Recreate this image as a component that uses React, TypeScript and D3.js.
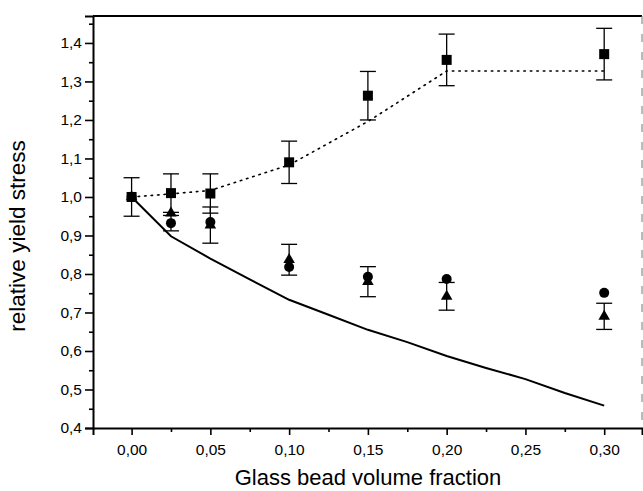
import React, { useEffect, useRef } from "react";
import * as d3 from "d3";

// measured points
const fractions = [0, 0.025, 0.05, 0.1, 0.15, 0.2, 0.3];
const squareValues = [1.0, 1.01, 1.009, 1.09, 1.263, 1.356, 1.371];
const squareErrors = [0.05, 0.05, 0.051, 0.055, 0.063, 0.067, 0.067];
const circleValues = [1.0, 0.932, 0.935, 0.818, 0.793, 0.787, 0.751];
const circleErrors = [0, 0.02, 0, 0, 0, 0, 0];
const triangleValues = [1.0, 0.958, 0.927, 0.837, 0.78, 0.742, 0.69];
const triangleErrors = [0, 0, 0.047, 0.04, 0.039, 0.036, 0.034];

// model curves
const upperFractions = [0, 0.025, 0.05, 0.1, 0.15, 0.2, 0.3];
const upperValues = [1.0, 1.008, 1.017, 1.083, 1.196, 1.327, 1.327];
const lowerFractions = [0, 0.025, 0.05, 0.075, 0.1, 0.125, 0.15, 0.175, 0.2, 0.225, 0.25, 0.275, 0.3];
const lowerValues = [1.0, 0.898, 0.84, 0.786, 0.733, 0.694, 0.655, 0.623, 0.587, 0.556, 0.527, 0.491, 0.458];

const xTicks = [0, 0.05, 0.1, 0.15, 0.2, 0.25, 0.3];
const xMinor = [0.025, 0.075, 0.125, 0.175, 0.225, 0.275];
const yTicks = [0.4, 0.5, 0.6, 0.7, 0.8, 0.9, 1.0, 1.1, 1.2, 1.3, 1.4];
const yMinor = [0.45, 0.55, 0.65, 0.75, 0.85, 0.95, 1.05, 1.15, 1.25, 1.35, 1.45];

const W = 643;
const H = 491;
const FONT = "'Liberation Sans', Arial, Helvetica, sans-serif";

const App = () => {
  const ref = useRef<SVGSVGElement>(null);

  useEffect(() => {
    const svg = d3.select(ref.current);
    svg.selectAll("*").remove();

    const x = d3.scaleLinear().domain([-0.0245, 0.324]).range([93, 642]);
    const y = d3.scaleLinear().domain([0.4, 1.47]).range([428, 16]);

    const comma = (f: string) => (d: any) => d3.format(f)(d).replace(".", ",");

    // frame top/right
    svg.append("line").attr("x1", 93).attr("x2", 642).attr("y1", 16).attr("y2", 16)
      .attr("stroke", "#000").attr("stroke-width", 1.8);
    svg.append("line").attr("x1", 642).attr("x2", 642).attr("y1", 16).attr("y2", 428)
      .attr("stroke", "#777").attr("stroke-width", 1).attr("stroke-dasharray", "8,10");

    // axes
    const yAxis = svg.append("g").attr("transform", "translate(93,0)")
      .call(d3.axisLeft(y).tickValues(yTicks).tickSize(8).tickPadding(3).tickFormat(comma(".1f")));
    svg.append("g").attr("transform", "translate(93,0)")
      .call(d3.axisLeft(y).tickValues(yMinor).tickSize(4).tickFormat(() => ""))
      .call((g) => g.select(".domain").remove());
    const xAxis = svg.append("g").attr("transform", "translate(0,428)")
      .call(d3.axisBottom(x).tickValues(xTicks).tickSize(7).tickPadding(9).tickFormat(comma(".2f")));
    svg.append("g").attr("transform", "translate(0,428)")
      .call(d3.axisBottom(x).tickValues(xMinor).tickSize(4).tickFormat(() => ""))
      .call((g) => g.select(".domain").remove());

    svg.selectAll(".domain").attr("stroke-width", 2);
    svg.selectAll(".tick line").attr("stroke-width", 1.6);
    [yAxis, xAxis].forEach((g) =>
      g.selectAll("text").attr("font-family", FONT).attr("font-size", 15.5).attr("fill", "#000")
    );

    // titles
    svg.append("text").attr("x", 368).attr("y", 485).attr("text-anchor", "middle")
      .attr("font-family", FONT).attr("font-size", 22).text("Glass bead volume fraction");
    svg.append("text").attr("transform", "translate(25,236) rotate(-90)").attr("text-anchor", "middle")
      .attr("font-family", FONT).attr("font-size", 22.5).text("relative yield stress");

    // model lines
    const upper = d3.line<number>().x((d) => x(d)).y((d, i) => y(upperValues[i]));
    const lower = d3.line<number>().x((d) => x(d)).y((d, i) => y(lowerValues[i]));
    svg.append("path").attr("d", upper(upperFractions)).attr("fill", "none")
      .attr("stroke", "#000").attr("stroke-width", 1.6)
      .attr("stroke-dasharray", "1.5,5").attr("stroke-linecap", "round");
    svg.append("path").attr("d", lower(lowerFractions)).attr("fill", "none")
      .attr("stroke", "#000").attr("stroke-width", 2);

    // error bars
    const errors = (vals: number[], errs: number[]) => {
      const g = svg.append("g").attr("stroke", "#000").attr("stroke-width", 1.3);
      fractions.forEach((f, i) => {
        if (!errs[i]) return;
        const cx = x(f);
        const y1 = y(vals[i] + errs[i]);
        const y2 = y(vals[i] - errs[i]);
        g.append("line").attr("x1", cx).attr("x2", cx).attr("y1", y1).attr("y2", y2);
        g.append("line").attr("x1", cx - 8).attr("x2", cx + 8).attr("y1", y1).attr("y2", y1);
        g.append("line").attr("x1", cx - 8).attr("x2", cx + 8).attr("y1", y2).attr("y2", y2);
      });
    };
    errors(squareValues, squareErrors);
    errors(circleValues, circleErrors);
    errors(triangleValues, triangleErrors);

    // markers
    svg.append("g").selectAll("circle").data(fractions).join("circle")
      .attr("cx", (d) => x(d)).attr("cy", (d, i) => y(circleValues[i])).attr("r", 5).attr("fill", "#000");
    svg.append("g").selectAll("path").data(fractions).join("path")
      .attr("transform", (d, i) => `translate(${x(d)},${y(triangleValues[i])})`)
      .attr("d", d3.symbol(d3.symbolTriangle, 58)()).attr("fill", "#000");
    svg.append("g").selectAll("rect").data(fractions).join("rect")
      .attr("x", (d) => x(d) - 5).attr("y", (d, i) => y(squareValues[i]) - 5)
      .attr("width", 10).attr("height", 10).attr("fill", "#000");
  }, []);

  return (
    <div style={{ position: "absolute", left: 0, top: 0 }}>
      <svg ref={ref} width={W} height={H} style={{ display: "block", background: "#fff" }}></svg>
    </div>
  );
};

export default App;
